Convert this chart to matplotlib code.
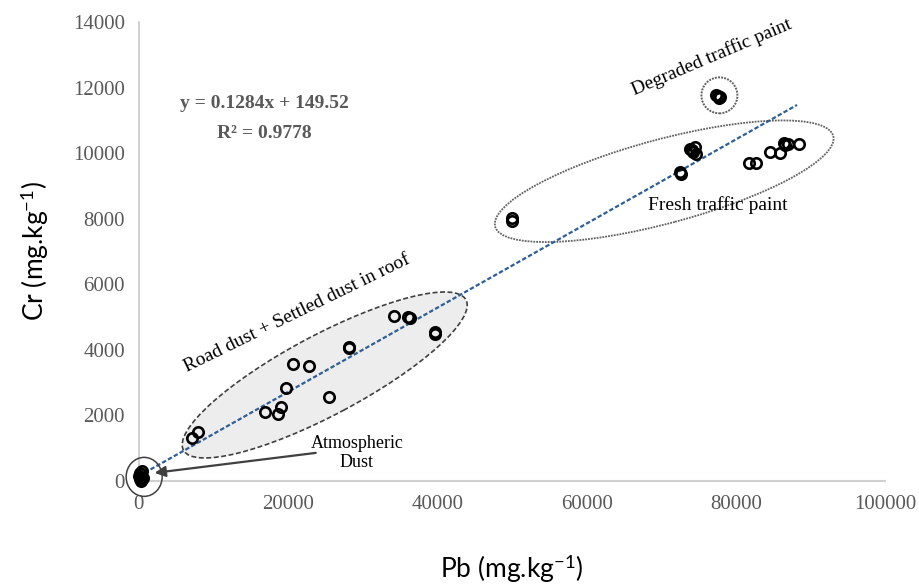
import matplotlib
matplotlib.use("Agg")
import matplotlib.pyplot as plt
import matplotlib.transforms as mtransforms
from matplotlib.patches import Ellipse
import numpy as np

# Pb (x) and Cr (y) concentrations, mg/kg
atmos_pb = [100, 200, 300, 150, 400, 250, 50, 350, 500]
atmos_cr = [50, 120, 200, 250, 80, 0, 150, 300, 100]

road_pb = [7060, 7950, 16900, 18700, 19100, 19700, 20700, 22800, 25500,
           28100, 28200, 34200, 36100, 36300, 39700, 39700]
road_cr = [1302, 1485, 2113, 2043, 2265, 2845, 3567, 3515, 2570,
           4095, 4060, 5040, 5009, 4980, 4552, 4480]

fresh_pb = [49960, 49960, 72700, 72500, 73900, 74500, 74300, 74700, 74100,
            81700, 82700, 84600, 85900, 86500, 86600, 87000, 88500]
fresh_cr = [8009, 7940, 9381, 9430, 10143, 10192, 10040, 9990, 10091,
            9704, 9704, 10040, 10009, 10326, 10244, 10296, 10296]

degraded_pb = [77300, 77900, 77600, 77800]
degraded_cr = [11790, 11707, 11750, 11680]

slope = 0.1284
intercept = 149.52
fit_x = [0, 88200]

x_ticks = [0, 20000, 40000, 60000, 80000, 100000]
y_ticks = [0, 2000, 4000, 6000, 8000, 10000, 12000, 14000]

GRAY = "#595959"

plt.rcParams["mathtext.fontset"] = "custom"
plt.rcParams["mathtext.rm"] = "Lato"
plt.rcParams["mathtext.it"] = "Lato:italic"

fig = plt.figure(figsize=(9.2, 5.85), dpi=100)
ax = fig.add_axes([0.151, 0.178, 0.811, 0.784])
ax.set_xlim(0, 100000)
ax.set_ylim(0, 14000)


def px_ellipse(cx, cy, w, h, angle, **kw):
    # ellipse sized in pixels, centred at a data point
    tr = fig.dpi_scale_trans + mtransforms.ScaledTranslation(cx, cy, ax.transData)
    e = Ellipse((0, 0), w / 100, h / 100, angle=angle, transform=tr,
                clip_on=False, **kw)
    ax.add_patch(e)
    return e


# group outlines
px_ellipse(24900, 3232, 320, 80, 28, facecolor="#EDEDED", edgecolor="#404040",
           linestyle=(0, (3, 1.5)), linewidth=1.2, zorder=1)
px_ellipse(70400, 9146, 350, 84, 15, facecolor="none", edgecolor="#606060",
           linestyle=(0, (1, 0.6)), linewidth=1.3, zorder=1)
px_ellipse(77800, 11768, 36, 36, 0, facecolor="none", edgecolor="#606060",
           linestyle=(0, (1, 0.6)), linewidth=1.4, zorder=1)
px_ellipse(700, 122, 36, 39, 0, facecolor="none", edgecolor="#404040",
           linewidth=1.1, zorder=4)

# trend line
fx = np.array(fit_x)
ax.plot(fx, slope * fx + intercept, color="#2F5F98", linestyle=(0, (2, 1)),
        linewidth=1.6, zorder=2)

# samples
all_pb = atmos_pb + road_pb + fresh_pb + degraded_pb
all_cr = atmos_cr + road_cr + fresh_cr + degraded_cr
ax.plot(all_pb, all_cr, linestyle="none", marker="o", markersize=7.5,
        markerfacecolor="none", markeredgecolor="black", markeredgewidth=1.9,
        zorder=3, clip_on=False)

serif = "Liberation Serif"
ax.text(16800, 11524, "y = 0.1284x + 149.52", ha="center", va="center",
        fontsize=14, fontweight="bold", color=GRAY, family=serif)
ax.text(16800, 10610, "R² = 0.9778", ha="center", va="center",
        fontsize=14, fontweight="bold", color=GRAY, family=serif)

ax.text(21200, 5122, "Road dust + Settled dust in roof", ha="center",
        va="center", rotation=26, fontsize=14, family=serif)
ax.text(76800, 12927, "Degraded traffic paint", ha="center", va="center",
        rotation=23, fontsize=14, family=serif)
ax.text(77600, 8415, "Fresh traffic paint", ha="center", va="center",
        fontsize=14, family=serif)
ax.text(29200, 854, "Atmospheric\nDust", ha="center", va="center",
        fontsize=13, family=serif, linespacing=1.2)
ax.annotate("", xy=(2100, 244), xytext=(23700, 854),
            arrowprops=dict(arrowstyle="-|>", color="#404040", lw=1.6,
                            mutation_scale=16, shrinkA=0, shrinkB=0),
            annotation_clip=False)

ax.set_xticks(x_ticks)
ax.set_yticks(y_ticks)
ax.set_xticklabels([str(v) for v in x_ticks])
ax.set_yticklabels([str(v) for v in y_ticks])
ax.tick_params(length=0, labelsize=15, labelcolor=GRAY, pad=10)
for lab in ax.get_xticklabels() + ax.get_yticklabels():
    lab.set_family(serif)

for side in ["top", "right"]:
    ax.spines[side].set_visible(False)
ax.spines["left"].set_color("#C8C8C8")
ax.spines["bottom"].set_color("#D0D0D0")
ax.spines["left"].set_linewidth(1.2)
ax.spines["bottom"].set_linewidth(1.5)

ax.set_xlabel(r"Pb (mg.kg$^{\mathrm{-1}}$)", fontsize=19, family="Lato",
              labelpad=28)
ax.set_ylabel(r"Cr (mg.kg$^{\mathrm{-1}}$)", fontsize=19, family="Lato",
              labelpad=16)

fig.savefig("out.png", dpi=100)
